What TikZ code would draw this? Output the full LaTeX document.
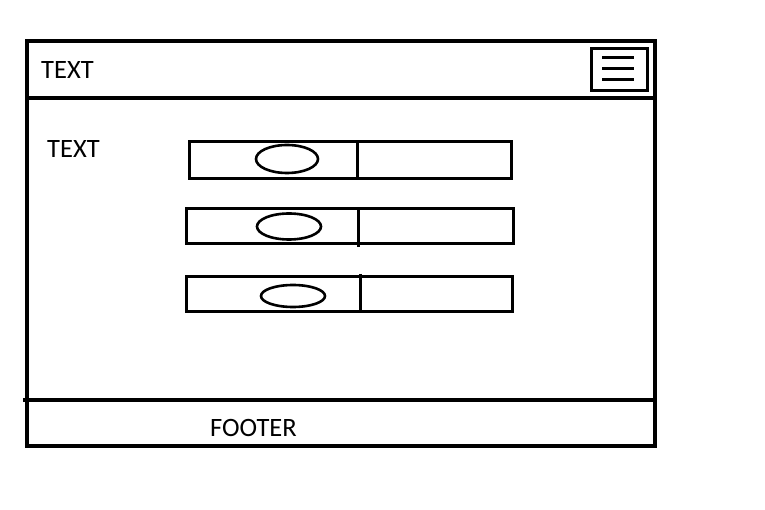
\documentclass[tikz,border=0pt]{standalone}
\usepackage{fontspec}
\setmainfont{Carlito}
\begin{document}
\begin{tikzpicture}[x=1pt,y=-1pt,
  frame/.style={line width=3.3pt},
  part/.style={line width=3pt},
  oval/.style={line width=2.6pt},
  lbl/.style={inner sep=0pt,font=\fontsize{26.5}{30}\selectfont},
  lbll/.style={lbl,anchor=west}]
\useasboundingbox (0,0) rectangle (765,510);
% outer frame
\draw[frame] (27,41) rectangle (655,446);
\draw[frame] (27,98) -- (655,98);
\draw[frame] (23,400) -- (655,400);
% menu icon
\draw[part] (591,49) rectangle (647,91);
\draw[part] (602,58) -- (634,58);
\draw[part] (602,69) -- (634,69);
\draw[part] (602,80) -- (634,80);
% texts
\node[lbll] (title) at (41,70) {TEXT};
\node[lbll] (side) at (47,149) {TEXT};
\node[lbll] (footer) at (210,428) {FOOTER};
% row 1
\draw[part] (189,142) rectangle (511,179);
\draw[part] (357,142) -- (357,179);
\draw[oval] (287,159) ellipse [x radius=31, y radius=14];
% row 2
\draw[part] (186,209) rectangle (513,244);
\draw[part] (358.5,209) -- (358.5,247);
\draw[oval] (289,226.5) ellipse [x radius=32, y radius=13];
% row 3
\draw[part] (186,277) rectangle (512,312);
\draw[part] (360.5,274) -- (360.5,312);
\draw[oval] (293,296) ellipse [x radius=32, y radius=11];
\end{tikzpicture}
\end{document}
